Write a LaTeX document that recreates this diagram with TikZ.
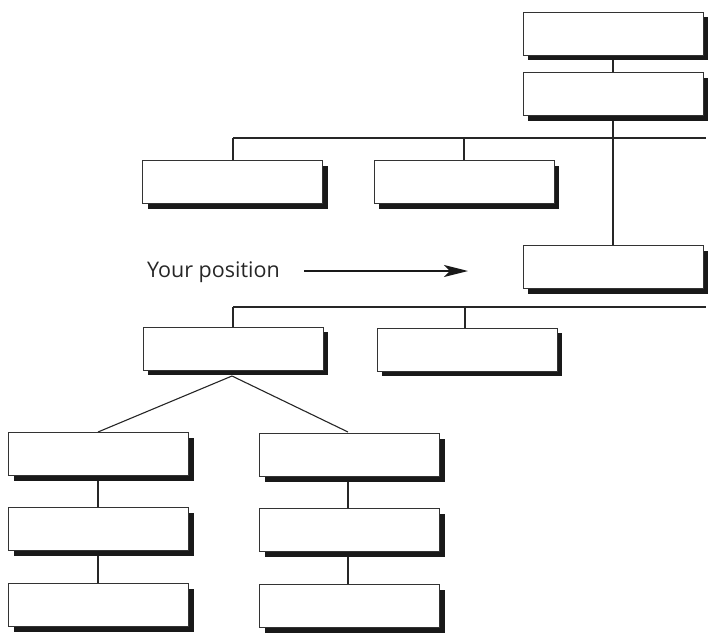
\documentclass[tikz,border=0pt]{standalone}
\usepackage{fontspec}
\setmainfont{Open Sans}
\usetikzlibrary{shadows,arrows.meta,calc}
\begin{document}
\begin{tikzpicture}[x=1pt,y=-1pt,
  orgbox/.style={draw=black!80, line width=0.8pt, fill=white, minimum width=180pt, minimum height=43pt, inner sep=0pt,
    drop shadow={shadow xshift=5pt, shadow yshift=-5pt, fill=black!90, opacity=1}},
  link/.style={draw=black!85, line width=1.1pt}]
\useasboundingbox (0,0) rectangle (715,640);
% connectors first
\coordinate (h1l) at (233,138); \coordinate (h1r) at (706,138);
\coordinate (h2l) at (233,307); \coordinate (h2r) at (706,307);
\coordinate (fork) at (232,376);
\draw[link] (613,33) -- (613,267);
\draw[link] (h1l) -- (h1r);
\draw[link] (h2l) -- (h2r);
\draw[link] (h1l) -- (233,182);
\draw[link] (464,138) -- (464,182);
\draw[link] (h2l) -- (233,348);
\draw[link] (465,307) -- (465,349);
\draw[link] (fork) -- (98,432);
\draw[link] (fork) -- (348,432);
\draw[link] (98,454) -- (98,605);
\draw[link] (348,455) -- (348,606);
% boxes
\node[orgbox] (A) at (613,33.5) {};
\node[orgbox] (B) at (613,94) {};
\node[orgbox] (C) at (232.5,182) {};
\node[orgbox] (D) at (464,182) {};
\node[orgbox] (E) at (613,267) {};
\node[orgbox] (F) at (233,348.5) {};
\node[orgbox] (G) at (467,349.5) {};
\node[orgbox] (H) at (98.5,454) {};
\node[orgbox] (I) at (349.5,455) {};
\node[orgbox] (J) at (98.5,529) {};
\node[orgbox] (K) at (349.5,530) {};
\node[orgbox] (L) at (98.5,605) {};
\node[orgbox] (M) at (349.5,606) {};
% label and arrow
\node[anchor=base west, inner sep=0pt, font=\fontsize{21.5pt}{24pt}\selectfont, text=black!85] (lbl) at (147,277) {Your position};
\coordinate (as) at (304,271);
\coordinate (ae) at (468,271);
\draw[line width=1.6pt, black!90, -{Stealth[length=24pt,width=12pt,inset=6pt]}] (as) -- (ae);
\end{tikzpicture}
\end{document}
